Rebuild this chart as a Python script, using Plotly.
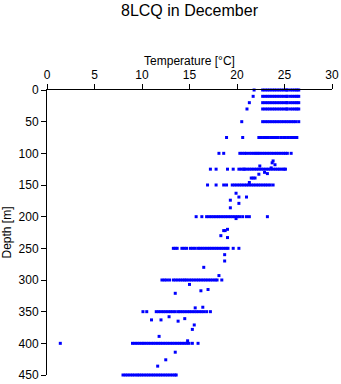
import plotly.graph_objects as go

# Depth levels with many readings (m) and their temperatures (degC)
cluster_depths = [0, 10, 20, 30, 50, 75, 100, 125, 150, 200, 250, 300, 350, 400, 450]

t_000 = [21.8, 22.7, 22.95, 23.2, 23.45, 23.7, 23.95, 24.2, 24.45, 24.7, 24.95, 25.2, 25.3, 25.6, 25.85, 26.1, 26.3, 26.5]
t_010 = [21.7, 22.7, 22.95, 23.2, 23.45, 23.7, 23.95, 24.2, 24.45, 24.7, 24.95, 25.2, 25.3, 25.6, 25.85, 26.1, 26.3, 26.5]
t_020 = [21.3, 22.7, 22.95, 23.2, 23.45, 23.7, 23.95, 24.2, 24.45, 24.7, 24.95, 25.2, 25.3, 25.6, 25.85, 26.1, 26.3, 26.5]
t_030 = [21.05, 22.7, 22.95, 23.2, 23.45, 23.7, 23.95, 24.2, 24.45, 24.7, 24.95, 25.2, 25.3, 25.6, 25.85, 26.1, 26.3, 26.5]
t_050 = [20.5, 22.7, 22.95, 23.2, 23.45, 23.7, 23.95, 24.2, 24.45, 24.7, 24.95, 25.2, 25.45, 25.7, 25.95, 26.2, 26.5]
t_075 = [18.9, 20.6, 22.3, 22.55, 22.8, 23.05, 23.3, 23.55, 23.8, 24.05, 24.3, 24.6, 24.9, 25.1, 25.4, 25.65, 25.9, 26.1, 26.3]
t_100 = [18.1, 18.6, 20.3, 20.55, 20.8, 21.0, 21.3, 21.55, 21.8, 22.0, 22.2, 22.4, 22.65, 22.9, 23.15, 23.4,
         23.65, 23.9, 24.15, 24.4, 24.65, 24.9, 25.1, 25.3, 25.7]
t_125 = [17.2, 17.8, 19.0, 19.6, 20.2, 20.45, 20.7, 20.8, 21.05, 21.3, 21.55, 21.8, 22.05, 22.3, 22.55, 22.8,
         23.05, 23.3, 23.55, 23.8, 24.05, 24.3, 24.5, 24.75, 24.95, 25.1]
t_150 = [16.9, 17.8, 18.6, 18.9, 19.5, 19.75, 20.0, 20.25, 20.5, 20.75, 21.0, 21.25, 21.5, 21.75, 22.0, 22.25,
         22.5, 22.75, 23.0, 23.25, 23.5, 23.8]
t_200 = [15.7, 16.3, 16.8, 17.05, 17.3, 17.55, 17.8, 18.05, 18.3, 18.55, 18.8, 19.05, 19.3, 19.55, 19.8, 20.05,
         20.3, 20.6, 21.0, 21.3, 23.2]
t_250 = [13.3, 13.5, 13.7, 14.2, 14.45, 14.7, 15.1, 15.35, 15.6, 15.9, 16.1, 16.35, 16.6, 16.85, 17.1, 17.35,
         17.6, 17.85, 18.1, 18.35, 18.6, 18.85, 19.05, 19.6, 20.2]
t_300 = [12.1, 12.35, 12.6, 12.9, 13.3, 13.55, 13.8, 14.05, 14.3, 14.5, 14.7, 14.95, 15.2, 15.45, 15.7, 15.95,
         16.2, 16.45, 16.7, 16.95, 17.2, 17.45, 17.7, 17.9, 18.4]
t_350 = [10.1, 10.5, 11.5, 11.75, 12.0, 12.25, 12.5, 12.75, 13.0, 13.25, 13.5, 13.8, 14.0, 14.25, 14.5, 14.75,
         15.0, 15.25, 15.5, 15.75, 16.0, 16.25, 16.5, 16.8, 17.2]
t_400 = [1.4, 9.0, 9.25, 9.5, 9.75, 10.0, 10.2, 10.45, 10.7, 10.95, 11.2, 11.45, 11.7, 11.95, 12.2, 12.45, 12.7,
         12.95, 13.2, 13.45, 13.7, 13.95, 14.2, 14.45, 14.7, 14.95, 15.3, 15.9]
t_450 = [8.0, 8.25, 8.5, 8.75, 9.0, 9.25, 9.5, 9.7, 9.95, 10.2, 10.45, 10.7, 10.95, 11.2, 11.45, 11.7, 11.95,
         12.2, 12.45, 12.7, 12.95, 13.2, 13.45, 13.6]

cluster_temps = [t_000, t_010, t_020, t_030, t_050, t_075, t_100, t_125, t_150,
                 t_200, t_250, t_300, t_350, t_400, t_450]

# Isolated readings between the standard levels
scatter_depth = [112, 115, 118, 120, 123, 130, 132, 133, 139, 139, 139, 146, 163, 169, 169, 174, 179, 186,
                 203, 220, 222, 222, 230, 233, 260, 270, 280, 293, 307, 315, 317, 321, 343, 344, 358, 361,
                 363, 363, 365, 371, 378, 389, 396, 414, 426, 436]
scatter_temp = [23.8, 23.7, 24.0, 22.4, 23.6, 22.9, 23.2, 22.3, 21.5, 21.7, 21.9, 21.3, 19.9, 20.2, 21.0, 19.3,
                20.2, 19.3, 19.9, 19.0, 18.6, 18.75, 18.3, 19.0, 18.7, 18.7, 16.5, 18.1, 15.0, 16.95, 16.2,
                13.5, 16.4, 15.6, 12.85, 14.5, 11.0, 12.0, 13.8, 15.5, 15.3, 11.8, 14.8, 13.5, 12.5, 11.65]

xs, ys = [], []
for d, temps in zip(cluster_depths, cluster_temps):
    xs.extend(temps)
    ys.extend([d] * len(temps))
xs.extend(scatter_temp)
ys.extend(scatter_depth)

FONT = "Liberation Sans, Arial, sans-serif"

fig = go.Figure(go.Scatter(
    x=xs, y=ys, mode="markers",
    marker=dict(symbol="square", size=3, color="#0000FF", line=dict(width=0)),
    cliponaxis=False, hoverinfo="x+y",
))

fig.update_layout(
    width=341, height=384,
    margin=dict(l=47, r=9, t=90, b=9, autoexpand=False),
    paper_bgcolor="white", plot_bgcolor="white",
    showlegend=False,
    font=dict(family=FONT, size=12, color="black"),
    title=dict(text="8LCQ in December", x=0.5, xref="paper", xanchor="center",
               y=0.987, yref="container", yanchor="top", automargin=False,
               pad=dict(t=0, b=0, l=0, r=0),
               font=dict(family=FONT, size=16, color="black")),
)
fig.update_xaxes(
    side="top", range=[0, 30], tickvals=[0, 5, 10, 15, 20, 25, 30],
    showline=True, linecolor="black", linewidth=1, mirror=False, automargin=False,
    ticks="outside", ticklen=5, tickcolor="black", showgrid=False, zeroline=False,
    title=dict(text="Temperature [°C]", standoff=0, font=dict(family=FONT, size=12)),
    tickfont=dict(family=FONT, size=12),
)
fig.update_yaxes(
    range=[450, 0], tickvals=[0, 50, 100, 150, 200, 250, 300, 350, 400, 450],
    showline=True, linecolor="black", linewidth=1, mirror=False, automargin=False,
    ticks="outside", ticklen=5, tickcolor="black", showgrid=False, zeroline=False,
    title=dict(text="Depth [m]", standoff=6, font=dict(family=FONT, size=12)),
    tickfont=dict(family=FONT, size=12),
)

fig.write_html("out.html")
